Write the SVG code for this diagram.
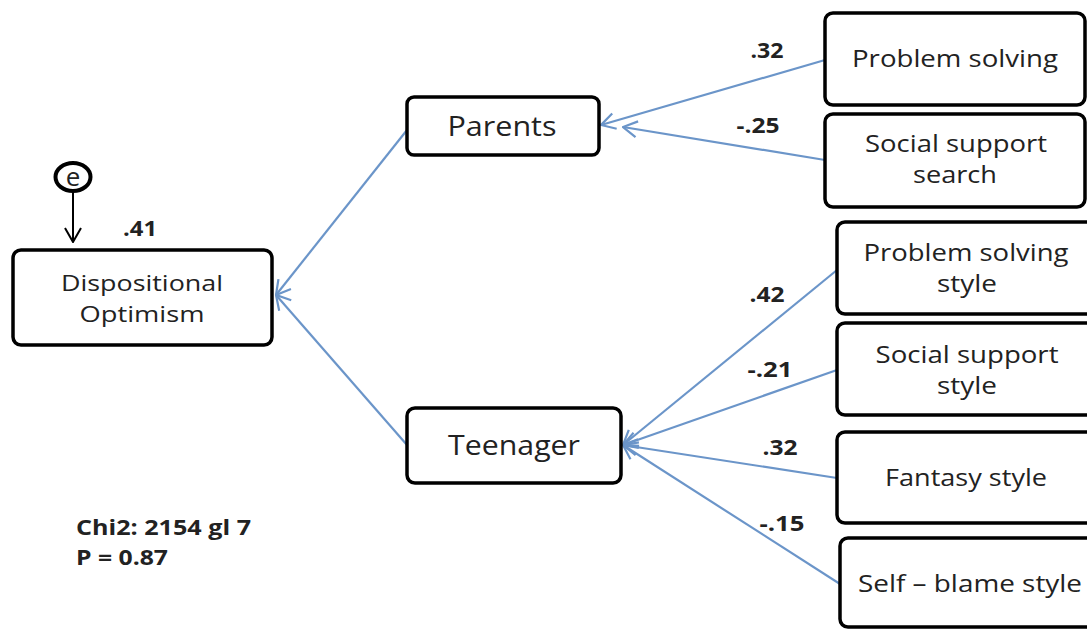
<svg xmlns="http://www.w3.org/2000/svg" width="1087" height="630" viewBox="0 0 1087 630">
<style>
.box{fill:#fff;stroke:#000;stroke-width:3.5}
.t{font-family:"Open Sans","Liberation Sans",sans-serif;fill:#222;text-anchor:middle}
.lb{font-family:"Open Sans","Liberation Sans",sans-serif;font-weight:bold;fill:#222;font-size:21px;text-anchor:middle}
.c{stroke:#6b95c9;stroke-width:2.2;fill:none}
</style>
<defs>
<marker id="ah" viewBox="0 0 20 20" refX="19" refY="10" markerWidth="20" markerHeight="20" markerUnits="userSpaceOnUse" orient="auto-start-reverse">
<path d="M5,2 L19,10 L5,18" fill="none" stroke="#6b95c9" stroke-width="2.2"/>
</marker>
<marker id="ahk" viewBox="0 0 20 20" refX="19" refY="10" markerWidth="20" markerHeight="20" markerUnits="userSpaceOnUse" orient="auto">
<path d="M5,2 L19,10 L5,18" fill="none" stroke="#000" stroke-width="2"/>
</marker>
</defs>
<g id="connectors">
<line class="c" x1="276" y1="295" x2="407" y2="130" marker-start="url(#ah)"/>
<line class="c" x1="276" y1="295" x2="407" y2="445" marker-start="url(#ah)"/>
<line class="c" x1="601" y1="125" x2="825" y2="60" marker-start="url(#ah)"/>
<line class="c" x1="623" y1="127" x2="825" y2="160" marker-start="url(#ah)"/>
<line class="c" x1="623" y1="445" x2="837" y2="270" marker-start="url(#ah)"/>
<line class="c" x1="623" y1="445" x2="837" y2="370" marker-start="url(#ah)"/>
<line class="c" x1="623" y1="445" x2="837" y2="478" marker-start="url(#ah)"/>
<line class="c" x1="623" y1="445" x2="840" y2="584" marker-start="url(#ah)"/>
<line x1="73" y1="191" x2="73" y2="242" stroke="#000" stroke-width="2" marker-end="url(#ahk)"/>
</g>
<g id="e">
<ellipse cx="73" cy="177" rx="17.5" ry="14" fill="#fff" stroke="#000" stroke-width="4"/>
<text class="t" x="73" y="186" font-size="26">e</text>
</g>
<text class="lb" x="140" y="236" textLength="34" lengthAdjust="spacingAndGlyphs">.41</text>
<g id="dispositional">
<rect class="box" x="13" y="250" width="259" height="95" rx="8"/>
<text class="t" x="142" y="291" font-size="21" textLength="162" lengthAdjust="spacingAndGlyphs">Dispositional</text>
<text class="t" x="142" y="322" font-size="21" textLength="125" lengthAdjust="spacingAndGlyphs">Optimism</text>
</g>
<g id="parents">
<rect class="box" x="407" y="97" width="192" height="58" rx="7"/>
<text class="t" x="502" y="136" font-size="27" textLength="109" lengthAdjust="spacingAndGlyphs">Parents</text>
</g>
<g id="teenager">
<rect class="box" x="407" y="408" width="214" height="75" rx="8"/>
<text class="t" x="514" y="455" font-size="27" textLength="132" lengthAdjust="spacingAndGlyphs">Teenager</text>
</g>
<g id="problem-solving">
<rect class="box" x="825" y="13" width="260" height="92" rx="8"/>
<text class="t" x="955" y="67" font-size="24" textLength="206" lengthAdjust="spacingAndGlyphs">Problem solving</text>
</g>
<g id="social-support-search">
<rect class="box" x="825" y="114" width="260" height="93" rx="8"/>
<text class="t" x="956" y="152" font-size="24" textLength="182" lengthAdjust="spacingAndGlyphs">Social support</text>
<text class="t" x="955" y="183" font-size="24" textLength="84" lengthAdjust="spacingAndGlyphs">search</text>
</g>
<g id="problem-solving-style">
<rect class="box" x="837" y="222" width="260" height="92" rx="8"/>
<text class="t" x="966" y="261" font-size="24" textLength="205" lengthAdjust="spacingAndGlyphs">Problem solving</text>
<text class="t" x="967" y="292" font-size="24" textLength="60" lengthAdjust="spacingAndGlyphs">style</text>
</g>
<g id="social-support-style">
<rect class="box" x="837" y="323" width="260" height="92" rx="8"/>
<text class="t" x="967" y="363" font-size="24" textLength="183" lengthAdjust="spacingAndGlyphs">Social support</text>
<text class="t" x="967" y="394" font-size="24" textLength="60" lengthAdjust="spacingAndGlyphs">style</text>
</g>
<g id="fantasy-style">
<rect class="box" x="837" y="432" width="260" height="91" rx="8"/>
<text class="t" x="966" y="486" font-size="24" textLength="162" lengthAdjust="spacingAndGlyphs">Fantasy style</text>
</g>
<g id="self-blame-style">
<rect class="box" x="840" y="538" width="260" height="89" rx="8"/>
<text class="t" x="970" y="592" font-size="24" textLength="224" lengthAdjust="spacingAndGlyphs">Self – blame style</text>
</g>
<g id="labels">
<text class="lb" x="767" y="58" textLength="33" lengthAdjust="spacingAndGlyphs">.32</text>
<text class="lb" x="758" y="133" textLength="43" lengthAdjust="spacingAndGlyphs">-.25</text>
<text class="lb" x="767" y="302" textLength="35" lengthAdjust="spacingAndGlyphs">.42</text>
<text class="lb" x="770" y="377" textLength="45" lengthAdjust="spacingAndGlyphs">-.21</text>
<text class="lb" x="780" y="455" textLength="35" lengthAdjust="spacingAndGlyphs">.32</text>
<text class="lb" x="782" y="531" textLength="45" lengthAdjust="spacingAndGlyphs">-.15</text>
</g>
<g id="stats">
<text class="lb" x="76" y="535" style="text-anchor:start" textLength="175" lengthAdjust="spacingAndGlyphs">Chi2: 2154 gl 7</text>
<text class="lb" x="76" y="565" style="text-anchor:start" textLength="92" lengthAdjust="spacingAndGlyphs">P = 0.87</text>
</g>
</svg>
